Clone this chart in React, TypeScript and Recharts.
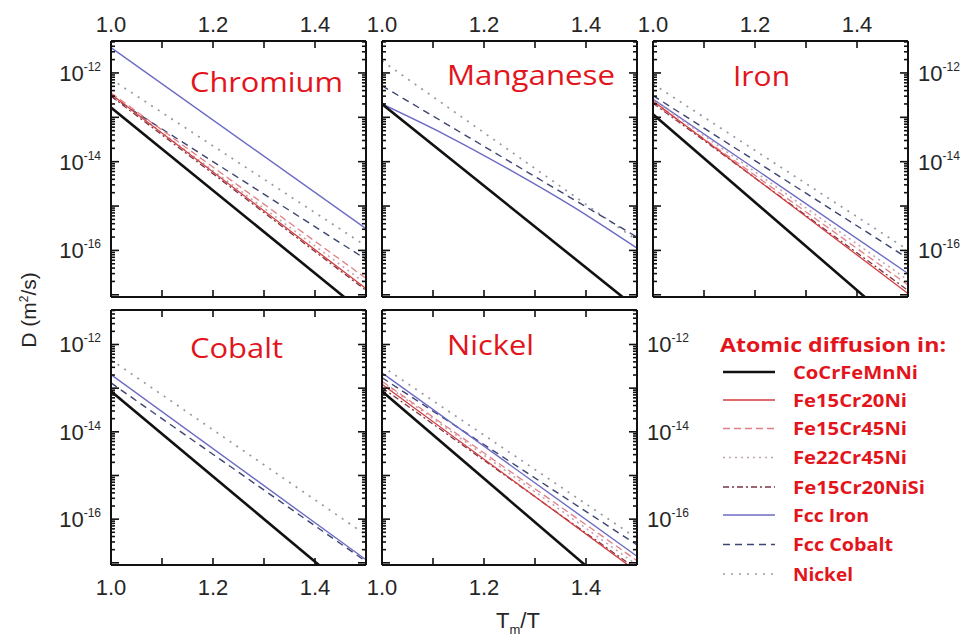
import React from "react";
import { LineChart, Line, XAxis, YAxis } from "recharts";

// Tm/T positions the curves were read at
const xEnds = [1.0, 1.5];
const mnIronX = [1.0, 1.125, 1.25, 1.375, 1.5];

// axis ticks
const xTickValues = [1.0, 1.1, 1.2, 1.3, 1.4, 1.5];
const xLabelValues = [1.0, 1.2, 1.4];
const xLabelText = ["1.0", "1.2", "1.4"];
const yLabelDecades = [-12, -14, -16];
const yLabelText = ["-12", "-14", "-16"];

// log10 D (m²/s) at each x, per panel
const chromium: Record<string, number[]> = {
  CoCrFeMnNi: [-12.78, -17.45],
  Fe15Cr20Ni: [-12.48, -16.86],
  Fe15Cr45Ni: [-12.45, -16.63],
  Fe22Cr45Ni: [-12.5, -16.75],
  Fe15Cr20NiSi: [-12.52, -16.9],
  "Fcc Iron": [-11.43, -15.51],
  "Fcc Cobalt": [-12.53, -16.2],
  Nickel: [-12.14, -15.9],
};
const manganese: Record<string, number[]> = {
  CoCrFeMnNi: [-12.7, -17.31],
  "Fcc Iron": [-12.7, -13.4, -14.18, -15.02, -15.95],
  "Fcc Cobalt": [-12.29, -15.7],
  Nickel: [-11.73, -15.77],
};
const iron: Record<string, number[]> = {
  CoCrFeMnNi: [-12.93, -17.89],
  Fe15Cr20Ni: [-12.63, -16.97],
  Fe15Cr45Ni: [-12.66, -16.78],
  Fe22Cr45Ni: [-12.6, -16.67],
  Fe15Cr20NiSi: [-12.68, -16.9],
  "Fcc Iron": [-12.59, -16.52],
  "Fcc Cobalt": [-12.51, -16.18],
  Nickel: [-12.25, -15.99],
};
const cobalt: Record<string, number[]> = {
  CoCrFeMnNi: [-13.07, -17.95],
  "Fcc Iron": [-12.69, -16.93],
  "Fcc Cobalt": [-12.88, -16.97],
  Nickel: [-12.35, -16.36],
};
const nickel: Record<string, number[]> = {
  CoCrFeMnNi: [-13.07, -18.07],
  Fe15Cr20Ni: [-12.91, -17.2],
  Fe15Cr45Ni: [-12.84, -16.95],
  Fe22Cr45Ni: [-12.86, -17.05],
  Fe15Cr20NiSi: [-12.99, -17.15],
  "Fcc Iron": [-12.65, -16.85],
  "Fcc Cobalt": [-12.76, -16.59],
  Nickel: [-12.5, -16.44],
};

const seriesNames = [
  "CoCrFeMnNi",
  "Fe15Cr20Ni",
  "Fe15Cr45Ni",
  "Fe22Cr45Ni",
  "Fe15Cr20NiSi",
  "Fcc Iron",
  "Fcc Cobalt",
  "Nickel",
];

const seriesStyle: Record<string, { stroke: string; width: number; dash?: string }> = {
  CoCrFeMnNi: { stroke: "#111111", width: 2.6 },
  Fe15Cr20Ni: { stroke: "#d23c3c", width: 1.3 },
  Fe15Cr45Ni: { stroke: "#e07f86", width: 1.3, dash: "7 4" },
  Fe22Cr45Ni: { stroke: "#c8a2ab", width: 1.6, dash: "2 4" },
  Fe15Cr20NiSi: { stroke: "#7c3344", width: 1.3, dash: "6 3 2 3" },
  "Fcc Iron": { stroke: "#6b6bc4", width: 1.4 },
  "Fcc Cobalt": { stroke: "#3d4571", width: 1.4, dash: "7 5" },
  Nickel: { stroke: "#9797a6", width: 1.7, dash: "2 6" },
};

const RED = "#e3141c";
const SANS = "'Liberation Sans', Arial, sans-serif";
const TITLE_FONT = "'Open Sans', sans-serif";
const M = 75;

function yTicks(domain: [number, number]) {
  const out: number[] = [];
  for (let n = -18; n <= -11; n++) {
    for (let k = 1; k <= 9; k++) {
      const v = n + Math.log10(k);
      if (v >= domain[0] && v <= domain[1]) out.push(v);
    }
  }
  return out;
}

function makeXTick(side: "top" | "bottom", showLabel: boolean) {
  return (props: any) => {
    const { x, y, payload } = props;
    const v = payload.value;
    const dir = side === "top" ? 1 : -1;
    const li = xLabelValues.findIndex((t) => Math.abs(t - v) < 1e-6);
    return (
      <g>
        <line x1={x} y1={y} x2={x} y2={y + dir * 7} stroke="#111" strokeWidth={1.6} />
        {showLabel && li >= 0 && (
          <text
            x={x}
            y={side === "top" ? y - 9 : y + 30}
            textAnchor="middle"
            fontSize={22}
            fill="#262626"
            fontFamily={SANS}
          >
            {xLabelText[li]}
          </text>
        )}
      </g>
    );
  };
}

function makeYTick(side: "left" | "right", showLabel: boolean) {
  return (props: any) => {
    const { x, y, payload } = props;
    const v = payload.value;
    const major = Math.abs(v - Math.round(v)) < 1e-6;
    const dir = side === "left" ? 1 : -1;
    const len = major ? 8 : 4;
    const li = yLabelDecades.findIndex((d) => Math.abs(d - v) < 1e-6);
    return (
      <g>
        <line x1={x} y1={y} x2={x + dir * len} y2={y} stroke="#111" strokeWidth={1.6} />
        {showLabel && li >= 0 && (
          <text
            x={side === "left" ? x - 10 : x + 10}
            y={y + 8}
            textAnchor={side === "left" ? "end" : "start"}
            fontSize={22}
            fill="#262626"
            fontFamily={SANS}
          >
            10
            <tspan dy={-10} fontSize={12}>
              {yLabelText[li]}
            </tspan>
          </text>
        )}
      </g>
    );
  };
}

interface PanelProps {
  values: Record<string, number[]>;
  left: number;
  top: number;
  width: number;
  height: number;
  domain: [number, number];
  labels: { top?: boolean; bottom?: boolean; left?: boolean; right?: boolean };
}

function Panel({ values, left, top, width, height, domain, labels }: PanelProps) {
  const drawOrder = [...seriesNames].reverse().filter((s) => values[s]);
  const frame = { stroke: "#111", strokeWidth: 2 };
  return (
    <div style={{ position: "absolute", left: left - M, top: top - M }}>
      <LineChart
        width={width + 2 * M}
        height={height + 2 * M}
        margin={{ top: M - 1, right: M - 1, bottom: M - 1, left: M - 1 }}
      >
        <XAxis
          xAxisId="bottom"
          type="number"
          dataKey="x"
          orientation="bottom"
          domain={[1.0, 1.5]}
          allowDataOverflow
          ticks={xTickValues}
          interval={0}
          height={1}
          tickSize={0}
          tickMargin={0}
          tickLine={false}
          axisLine={frame}
          tick={makeXTick("bottom", !!labels.bottom)}
        />
        <XAxis
          xAxisId="top"
          type="number"
          dataKey="x"
          orientation="top"
          domain={[1.0, 1.5]}
          allowDataOverflow
          ticks={xTickValues}
          interval={0}
          height={1}
          tickSize={0}
          tickMargin={0}
          tickLine={false}
          axisLine={frame}
          tick={makeXTick("top", !!labels.top)}
        />
        <YAxis
          yAxisId="left"
          type="number"
          orientation="left"
          domain={domain}
          allowDataOverflow
          ticks={yTicks(domain)}
          interval={0}
          width={1}
          tickSize={0}
          tickMargin={0}
          tickLine={false}
          axisLine={frame}
          tick={makeYTick("left", !!labels.left)}
        />
        <YAxis
          yAxisId="right"
          type="number"
          orientation="right"
          domain={domain}
          allowDataOverflow
          ticks={yTicks(domain)}
          interval={0}
          width={1}
          tickSize={0}
          tickMargin={0}
          tickLine={false}
          axisLine={frame}
          tick={makeYTick("right", !!labels.right)}
        />
        {drawOrder.map((name) => {
          const vals = values[name];
          const xs = vals.length === xEnds.length ? xEnds : mnIronX;
          const st = seriesStyle[name];
          return (
            <Line
              key={name}
              xAxisId="bottom"
              yAxisId="left"
              data={xs.map((x, i) => ({ x, y: vals[i] }))}
              dataKey="y"
              type={vals.length > 2 ? "monotone" : "linear"}
              stroke={st.stroke}
              strokeWidth={st.width}
              strokeDasharray={st.dash}
              dot={false}
              activeDot={false}
              isAnimationActive={false}
            />
          );
        })}
      </LineChart>
    </div>
  );
}

const titles = [
  { text: "Chromium", x: 190, y: 92, w: 153 },
  { text: "Manganese", x: 447, y: 85, w: 168 },
  { text: "Iron", x: 733, y: 86, w: 57 },
  { text: "Cobalt", x: 190, y: 358, w: 93 },
  { text: "Nickel", x: 447, y: 355, w: 87 },
];

const legendY = [372, 400, 428.5, 457.5, 487, 515, 544.5, 574];
const legendW = [125, 114, 114, 114, 132, 76, 100, 60];

export default function App() {
  const row1: [number, number] = [-17.05, -11.28];
  const row2: [number, number] = [-17.05, -11.21];
  return (
    <div style={{ position: "absolute", left: 0, top: 0, width: 965, height: 639, background: "#fff", overflow: "hidden" }}>
      <Panel values={chromium} left={111} top={41} width={255} height={256} domain={row1} labels={{ top: true, left: true }} />
      <Panel values={manganese} left={382} top={41} width={255} height={256} domain={row1} labels={{ top: true }} />
      <Panel values={iron} left={653} top={41} width={255} height={256} domain={row1} labels={{ top: true, right: true }} />
      <Panel values={cobalt} left={111} top={310} width={255} height={255} domain={row2} labels={{ bottom: true, left: true }} />
      <Panel values={nickel} left={382} top={310} width={255} height={255} domain={row2} labels={{ bottom: true, right: true }} />

      <svg width={965} height={639} style={{ position: "absolute", left: 0, top: 0, pointerEvents: "none" }}>
        {titles.map((t) => (
          <text
            key={t.text}
            x={t.x}
            y={t.y}
            fontSize={28}
            fill={RED}
            fontFamily={TITLE_FONT}
            textLength={t.w}
            lengthAdjust="spacingAndGlyphs"
          >
            {t.text}
          </text>
        ))}

        <text
          transform="translate(36,310) rotate(-90)"
          textAnchor="middle"
          fontSize={21}
          fill="#262626"
          fontFamily={SANS}
        >
          D (m<tspan dy={-8} fontSize={12}>2</tspan>
          <tspan dy={8}>/s)</tspan>
        </text>
        <text x={496} y={628} fontSize={22} fill="#262626" fontFamily={SANS}>
          T<tspan dy={6} fontSize={13}>m</tspan>
          <tspan dy={-6}>/T</tspan>
        </text>

        <text
          x={720}
          y={352}
          fontSize={19}
          fontWeight="bold"
          fill={RED}
          fontFamily={TITLE_FONT}
          textLength={226}
          lengthAdjust="spacingAndGlyphs"
        >
          Atomic diffusion in:
        </text>
        {seriesNames.map((name, i) => {
          const st = seriesStyle[name];
          const cy = legendY[i];
          return (
            <g key={name}>
              <line
                x1={723}
                x2={775}
                y1={cy}
                y2={cy}
                stroke={st.stroke}
                strokeWidth={st.width}
                strokeDasharray={st.dash}
              />
              <text
                x={793}
                y={cy + 6.5}
                fontSize={18}
                fontWeight="bold"
                fill={RED}
                fontFamily={TITLE_FONT}
                textLength={legendW[i]}
                lengthAdjust="spacingAndGlyphs"
              >
                {name}
              </text>
            </g>
          );
        })}
      </svg>
    </div>
  );
}
